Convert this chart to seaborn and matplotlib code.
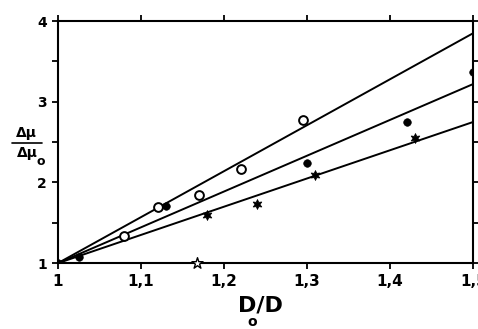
import matplotlib
matplotlib.use("Agg")
import matplotlib.pyplot as plt
import numpy as np
import pandas as pd
import seaborn as sns

# fitted lines, all from (1, 1)
line_x = [1.0, 1.5]
line_top = [1.0, 3.85]
line_mid = [1.0, 3.22]
line_low = [1.0, 2.75]

# open circles
open_x = [1.08, 1.12, 1.17, 1.22, 1.295]
open_y = [1.34, 1.70, 1.85, 2.17, 2.77]

# filled circles
full_x = [1.0, 1.025, 1.13, 1.30, 1.42, 1.50]
full_y = [1.0, 1.08, 1.71, 2.24, 2.75, 3.37]

# stars (six-point)
star_x = [1.18, 1.24, 1.31, 1.43]
star_y = [1.60, 1.73, 2.09, 2.55]

# open star on baseline
ostar_x = [1.167]
ostar_y = [1.0]

xticks = [1.0, 1.1, 1.2, 1.3, 1.4, 1.5]
xticklabels = ["1", "1,1", "1,2", "1,3", "1,4", "1,5"]
yticks = [1, 2, 3, 4]

sns.set_style("ticks")
plt.rcParams["font.family"] = ["DejaVu Sans"]
plt.rcParams["text.color"] = "black"
plt.rcParams["xtick.color"] = "black"
plt.rcParams["ytick.color"] = "black"
plt.rcParams["axes.edgecolor"] = "black"

fig = plt.figure(figsize=(4.78, 3.29), dpi=100)
ax = fig.add_axes([0.121, 0.2, 0.869, 0.736])

for ys in (line_top, line_mid, line_low):
    sns.lineplot(x=line_x, y=ys, ax=ax, color="black", lw=1.4)

sns.scatterplot(x=open_x, y=open_y, ax=ax, marker="o", s=40,
                facecolor="white", edgecolor="black", linewidth=1.4, zorder=3)
sns.scatterplot(x=full_x, y=full_y, ax=ax, marker="o", s=30,
                color="black", edgecolor="black", zorder=3)
sns.scatterplot(x=star_x, y=star_y, ax=ax, marker=(6, 1, 0), s=50,
                color="black", edgecolor="black", linewidth=0.6, zorder=3)
sns.scatterplot(x=ostar_x, y=ostar_y, ax=ax, marker="*", s=70,
                facecolor="white", edgecolor="black", linewidth=1.0, zorder=3,
                clip_on=False)

ax.set_xlim(1.0, 1.5)
ax.set_ylim(1.0, 4.0)
ax.set_xticks(xticks)
ax.set_xticklabels(xticklabels)
ax.set_yticks(yticks)
ax.set_yticks(np.arange(1.5, 4.0, 1.0), minor=True)
ax.tick_params(axis="both", which="both", direction="out", length=4, width=1.3,
               top=True, right=True, labelsize=10, pad=4)
ax.tick_params(axis="x", labelsize=11)
for lab in ax.get_xticklabels() + ax.get_yticklabels():
    lab.set_fontweight("bold")
for sp in ax.spines.values():
    sp.set_linewidth(1.5)
    sp.set_visible(True)

ax.set_xlabel("")
# x label: D_o / D
fig.text(0.545, 0.04, "D/D", fontsize=16, fontweight="bold", ha="center", va="bottom")
fig.text(0.527, 0.0, "o", fontsize=10, fontweight="bold", ha="center", va="bottom")

# y label as fraction
fig.text(0.055, 0.575, "Δμ", fontsize=10, fontweight="bold", ha="center", va="bottom")
fig.add_artist(plt.Line2D([0.025, 0.088], [0.565, 0.565], color="black", lw=1.2))
fig.text(0.058, 0.555, "Δμ", fontsize=10, fontweight="bold", ha="center", va="top")
fig.text(0.085, 0.53, "o", fontsize=9, fontweight="bold", ha="center", va="top")

fig.savefig("out.png", dpi=100, facecolor="white")
